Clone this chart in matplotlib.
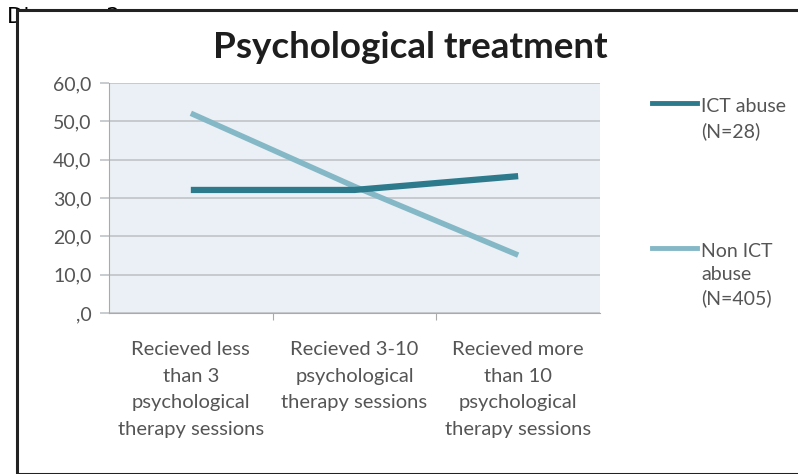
import matplotlib
matplotlib.use("Agg")
import matplotlib.pyplot as plt
from matplotlib.patches import Rectangle
from matplotlib.lines import Line2D

categories = ["Recieved less\nthan 3\npsychological\ntherapy sessions",
              "Recieved 3-10\npsychological\ntherapy sessions",
              "Recieved more\nthan 10\npsychological\ntherapy sessions"]
ict_abuse = [32.1, 32.1, 35.7]
non_ict_abuse = [52.1, 33.0, 15.1]
series_labels = ["ICT abuse\n(N=28)", "Non ICT\nabuse\n(N=405)"]
yticks = [0, 10, 20, 30, 40, 50, 60]
ytick_labels = [",0", "10,0", "20,0", "30,0", "40,0", "50,0", "60,0"]
title = "Psychological treatment"

W, H = 798, 474
fig = plt.figure(figsize=(W / 100, H / 100), dpi=100)
font = "Lato"
tcol = "#555555"

# partially hidden caption behind the chart box
fig.text(7 / W, 1 - 7 / H, "Diagram 2", ha="left", va="top", fontsize=15.5,
         family="DejaVu Sans", color="black", zorder=0)
box = Rectangle((17 / W, 0), 1.0, 1 - 10 / H, transform=fig.transFigure,
                facecolor="white", edgecolor="#222222", linewidth=2.2, zorder=1)
fig.patches.append(box)

ax = fig.add_axes([109 / W, 1 - 313 / H, (600 - 109) / W, (313 - 83) / H], zorder=2)
ax.set_facecolor("#EAF0F5")
x = list(range(len(categories)))
c1, c2 = "#2C7A8B", "#84B8C7"
ax.plot(x, non_ict_abuse, color=c2, linewidth=4, solid_capstyle="butt", zorder=3)
ax.plot(x, ict_abuse, color=c1, linewidth=4.5, solid_capstyle="butt", zorder=4)
ax.set_xlim(-0.5, len(categories) - 0.5)
ax.set_ylim(0, 60)
ax.set_yticks(yticks)
ax.set_yticklabels(ytick_labels, family=font, fontsize=14, color=tcol)
ax.set_xticks([i + 0.5 for i in x[:-1]])
ax.set_xticklabels([])
ax.tick_params(axis="x", length=5, color="#AAAAAA", direction="out")
ax.tick_params(axis="y", length=6.5, color="#C4C8CC", width=1.3, pad=6)
ax.grid(axis="y", color="#C4C8CC", linewidth=1.3)
ax.set_axisbelow(True)
for s in ["top", "right"]:
    ax.spines[s].set_visible(False)
ax.spines["left"].set_color("#AAAAAA")
ax.spines["bottom"].set_color("#AAAAAA")
for i, lab in enumerate(categories):
    ax.text(i, -7.4, lab, ha="center", va="top", family=font, fontsize=14.5,
            color=tcol, linespacing=1.68, transform=ax.transData)

fig.text(410 / W, 1 - 48 / H, title, ha="center", va="center", family=font,
         fontsize=26.5, fontweight="bold", color="#1E1E1E", zorder=3)

# legend
for (yy, ty, ls, lab, col) in [(103, 98, 1.5, series_labels[0], c1),
                               (248, 243, 1.42, series_labels[1], c2)]:
    fig.lines.append(Line2D([652 / W, 697 / W], [1 - yy / H, 1 - yy / H],
                            transform=fig.transFigure, color=col, linewidth=3.5, zorder=3))
    fig.text(701 / W, 1 - ty / H, lab, ha="left", va="top", family=font,
             fontsize=14, color=tcol, linespacing=ls, zorder=3)

fig.savefig("out.png", dpi=100)
